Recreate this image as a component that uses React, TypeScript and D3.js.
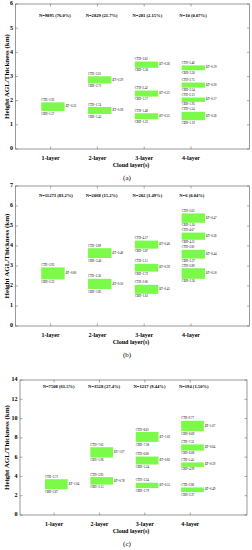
import { useRef, useEffect } from 'react'
import * as d3 from 'd3'

const layers = ['1-layer', '2-layer', '3-layer', '4-layer']

// panel (a)
const nLabelsA = ['N=9895 (76.0%)', 'N=2829 (21.7%)', 'N=281 (2.15%)', 'N=10 (0.07%)']
const cthA = [[1.93], [3.01, 1.74], [3.62, 2.42, 1.48], [3.46, 2.75, 2.13, 1.54]]
const cbhA = [[1.57], [2.71, 1.45], [3.36, 2.17, 1.23], [3.26, 2.54, 1.95, 1.19]]
const dtA = [[0.35], [0.29, 0.28], [0.26, 0.25, 0.25], [0.19, 0.2, 0.17, 0.36]]

// panel (b)
const nLabelsB = ['N=11273 (83.2%)', 'N=2068 (15.2%)', 'N=202 (1.49%)', 'N=6 (0.04%)']
const cthB = [[2.93], [3.89, 2.36], [4.27, 3.11, 2.06], [5.63, 4.67, 3.81, 2.89]]
const cbhB = [[2.33], [3.4, 1.85], [3.87, 2.72, 1.61], [5.16, 4.31, 3.37, 2.36]]
const dtB = [[0.6], [0.48, 0.5], [0.4, 0.39, 0.45], [0.47, 0.36, 0.44, 0.5]]

// panel (c)
const nLabelsC = ['N=7508 (61.5%)', 'N=3528 (27.4%)', 'N=1217 (9.44%)', 'N=194 (1.50%)']
const cthC = [[3.71], [7.03, 3.93], [8.61, 6.06, 3.34], [9.77, 7.32, 5.45, 2.86]]
const cbhC = [[2.67], [5.96, 3.15], [7.58, 5.24, 2.79], [8.69, 6.68, 4.99, 2.37]]
const dtC = [[1.04], [1.07, 0.78], [1.03, 0.82, 0.55], [1.07, 0.64, 0.59, 0.49]]

const fmt = d3.format('.2f')
const serif = '"Liberation Serif", "DejaVu Serif", serif'

interface Panel {
  top: number
  bottom: number
  left: number
  right: number
  yMax: number
  yStep: number
  nY: number
  labelX: number
  tag: string
  n: string[]
  cth: number[][]
  cbh: number[][]
  dt: number[][]
}

const panels: Panel[] = [
  { top: 4, bottom: 149, left: 15.5, right: 249.5, yMax: 6, yStep: 1, nY: 5.5, labelX: 7.5, tag: '(a)', n: nLabelsA, cth: cthA, cbh: cbhA, dt: dtA },
  { top: 186, bottom: 326, left: 15.5, right: 249.5, yMax: 7, yStep: 1, nY: 6.5, labelX: 7.5, tag: '(b)', n: nLabelsB, cth: cthB, cbh: cbhB, dt: dtB },
  { top: 380, bottom: 515, left: 20, right: 247, yMax: 14, yStep: 2, nY: 13.3, labelX: 7.5, tag: '(c)', n: nLabelsC, cth: cthC, cbh: cbhC, dt: dtC },
]

export default function App() {
  const svgRef = useRef<SVGSVGElement>(null)

  useEffect(() => {
    if (!svgRef.current) return
    const svg = d3.select(svgRef.current)
    svg.selectAll('*').remove()
    svg.append('rect').attr('width', 252).attr('height', 550).attr('fill', '#fff')

    panels.forEach((p) => {
      const x = d3.scaleLinear().domain([0.25, 5.25]).range([p.left, p.right])
      const y = d3.scaleLinear().domain([0, p.yMax]).range([p.bottom, p.top])
      const g = svg.append('g').attr('font-family', serif)
      const yTicks = d3.range(0, p.yMax + 0.001, p.yStep)
      const cats = d3.range(1, layers.length + 1)

      // frame
      g.append('rect')
        .attr('x', p.left).attr('y', p.top)
        .attr('width', p.right - p.left).attr('height', p.bottom - p.top)
        .attr('fill', 'none').attr('stroke', '#555').attr('stroke-width', 0.6)

      // inward ticks
      yTicks.forEach((t) => {
        g.append('line').attr('x1', p.left).attr('x2', p.left + 2.5).attr('y1', y(t)).attr('y2', y(t)).attr('stroke', '#555').attr('stroke-width', 0.5)
        g.append('line').attr('x1', p.right).attr('x2', p.right - 2.5).attr('y1', y(t)).attr('y2', y(t)).attr('stroke', '#555').attr('stroke-width', 0.5)
        g.append('text')
          .attr('x', p.left - 2.5).attr('y', y(t))
          .attr('text-anchor', 'end').attr('dominant-baseline', 'middle')
          .attr('font-size', 6).attr('font-weight', 'bold')
          .text(String(t))
      })
      cats.forEach((c, i) => {
        g.append('line').attr('x1', x(c)).attr('x2', x(c)).attr('y1', p.bottom).attr('y2', p.bottom - 2.5).attr('stroke', '#555').attr('stroke-width', 0.5)
        g.append('line').attr('x1', x(c)).attr('x2', x(c)).attr('y1', p.top).attr('y2', p.top + 2.5).attr('stroke', '#555').attr('stroke-width', 0.5)
        g.append('text')
          .attr('x', x(c)).attr('y', p.bottom + 10)
          .attr('text-anchor', 'middle').attr('dominant-baseline', 'middle')
          .attr('font-size', 6).attr('font-weight', 'bold')
          .text(layers[i])
        g.append('text')
          .attr('x', x(c - 0.25)).attr('y', y(p.nY))
          .attr('dominant-baseline', 'middle')
          .attr('font-size', 4.6).attr('font-weight', 'bold')
          .text(p.n[i])

        // bars
        p.cth[i].forEach((top, j) => {
          const bot = p.cbh[i][j]
          const x0 = x(c - 0.2)
          const x1 = x(c + 0.3)
          g.append('rect')
            .attr('x', x0).attr('y', y(top))
            .attr('width', x1 - x0).attr('height', y(bot) - y(top))
            .attr('fill', '#7cfa4a')
          g.append('text')
            .attr('x', x0).attr('y', y(top) - 1.4)
            .attr('font-size', 3).text(`CTH=${fmt(top)}`)
          g.append('text')
            .attr('x', x0).attr('y', y(bot) + 3.6)
            .attr('font-size', 3).text(`CBH=${fmt(bot)}`)
          g.append('text')
            .attr('x', x1 + 0.8).attr('y', (y(top) + y(bot)) / 2)
            .attr('dominant-baseline', 'middle')
            .attr('font-size', 3).text(`ΔT=${fmt(p.dt[i][j])}`)
        })
      })

      // axis titles
      g.append('text')
        .attr('x', 131).attr('y', p.bottom + 17)
        .attr('text-anchor', 'middle').attr('dominant-baseline', 'middle')
        .attr('font-size', 6).attr('font-weight', 'bold')
        .text('Cloud layer(s)')
      g.append('text')
        .attr('transform', `translate(${p.labelX},${(p.top + p.bottom) / 2}) rotate(-90)`)
        .attr('text-anchor', 'middle').attr('dominant-baseline', 'middle')
        .attr('font-size', 7).attr('font-weight', 'bold')
        .text('Height AGL/Thickness (km)')
      g.append('text')
        .attr('x', 127).attr('y', p.bottom + 29)
        .attr('text-anchor', 'middle').attr('dominant-baseline', 'middle')
        .attr('font-size', 7)
        .text(p.tag)
    })
  }, [])

  return (
    <svg ref={svgRef} width={252} height={550} style={{ position: 'absolute', left: 0, top: 0 }} />
  )
}
